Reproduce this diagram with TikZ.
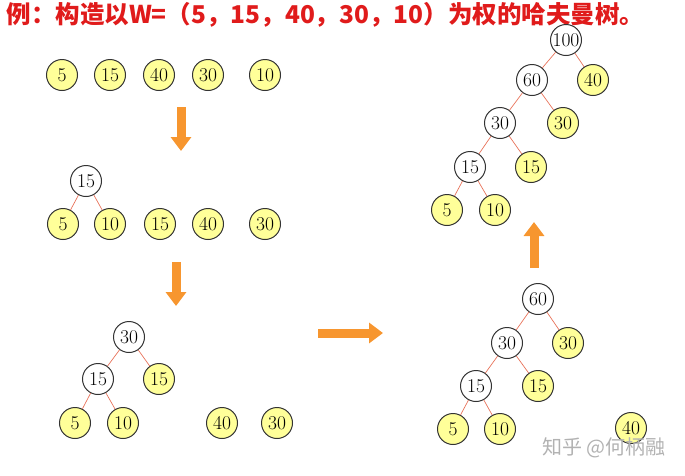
\documentclass[tikz,border=0pt]{standalone}
\usepackage{fontspec}
\newfontfamily\cjk{Noto Sans CJK SC}
\usetikzlibrary{arrows.meta}
\definecolor{leafc}{HTML}{FFFF99}
\definecolor{linkc}{HTML}{E8735A}
\definecolor{arrc}{HTML}{F7962F}
\definecolor{titlec}{HTML}{E01B1B}

\begin{document}
\begin{tikzpicture}[
  x=1pt,y=-1pt,
  wnode/.style={circle,draw=black!80,line width=1pt,fill=white,minimum size=31pt,inner sep=0pt,font=\fontsize{19.5}{19.5}\selectfont},
  leaf/.style={wnode,fill=leafc},
  link/.style={linkc,line width=0.7pt},
  bigarr/.style={arrc,line width=9pt,-{Triangle[length=14pt,width=20pt]}}]

\useasboundingbox (0,0) rectangle (685,475);

% title
\node[anchor=west,text=titlec,font=\cjk\bfseries\fontsize{24.5}{24.5}\selectfont] (title) at (3,15)
  {例：构造以W=（5，15，40，30，10）为权的哈夫曼树。};

% step 1: the five weights
\node[leaf] (a5) at (62,75) {5};
\node[leaf] (a15) at (110,75) {15};
\node[leaf] (a40) at (159,75) {40};
\node[leaf] (a30) at (208,75) {30};
\node[leaf] (a10) at (265,75) {10};

\coordinate (d1s) at (181,107);
\coordinate (d1e) at (181,151);
\draw[bigarr] (d1s) -- (d1e);

% step 2: 5+10
\node[wnode] (b15) at (86,181) {15};
\node[leaf] (b5) at (63,224) {5};
\node[leaf] (b10) at (110,224) {10};
\node[leaf] (b15y) at (160,224) {15};
\node[leaf] (b40) at (208,224) {40};
\node[leaf] (b30) at (265,224) {30};
\draw[link] (b15) -- (b5);
\draw[link] (b15) -- (b10);

\coordinate (d2s) at (176,262);
\coordinate (d2e) at (176,306);
\draw[bigarr] (d2s) -- (d2e);

% step 3: 15+15
\node[wnode] (c30) at (129,337) {30};
\node[wnode] (c15) at (98,379) {15};
\node[leaf] (c15y) at (159,379) {15};
\node[leaf] (c5) at (75,423) {5};
\node[leaf] (c10) at (123,423) {10};
\node[leaf] (c40) at (222,423) {40};
\node[leaf] (c30y) at (277,423) {30};
\draw[link] (c30) -- (c15);
\draw[link] (c30) -- (c15y);
\draw[link] (c15) -- (c5);
\draw[link] (c15) -- (c10);

\coordinate (rs) at (318,333);
\coordinate (re) at (383,333);
\draw[bigarr] (rs) -- (re);

% step 4: 30+30
\node[wnode] (e60) at (538,299) {60};
\node[wnode] (e30) at (507,343) {30};
\node[leaf] (e30y) at (568,343) {30};
\node[wnode] (e15) at (476,386) {15};
\node[leaf] (e15y) at (538,386) {15};
\node[leaf] (e5) at (453,429) {5};
\node[leaf] (e10) at (500,429) {10};
\node[leaf] (e40) at (631,428) {40};
\draw[link] (e60) -- (e30);
\draw[link] (e60) -- (e30y);
\draw[link] (e30) -- (e15);
\draw[link] (e30) -- (e15y);
\draw[link] (e15) -- (e5);
\draw[link] (e15) -- (e10);

\coordinate (us) at (534,268);
\coordinate (ue) at (534,222);
\draw[bigarr] (us) -- (ue);

% step 5: final tree
\node[wnode] (f100) at (566,40) {100};
\node[wnode] (f60) at (532,80) {60};
\node[leaf] (f40) at (593,80) {40};
\node[wnode] (f30) at (500,123) {30};
\node[leaf] (f30y) at (563,123) {30};
\node[wnode] (f15) at (470,167) {15};
\node[leaf] (f15y) at (531,167) {15};
\node[leaf] (f5) at (447,210) {5};
\node[leaf] (f10) at (495,210) {10};
\draw[link] (f100) -- (f60);
\draw[link] (f100) -- (f40);
\draw[link] (f60) -- (f30);
\draw[link] (f60) -- (f30y);
\draw[link] (f30) -- (f15);
\draw[link] (f30) -- (f15y);
\draw[link] (f15) -- (f5);
\draw[link] (f15) -- (f10);

% watermark
\node[text=black!30,font=\cjk\fontsize{20}{20}\selectfont] (mark) at (604,448) {知乎 @何柄融};
\end{tikzpicture}
\end{document}
